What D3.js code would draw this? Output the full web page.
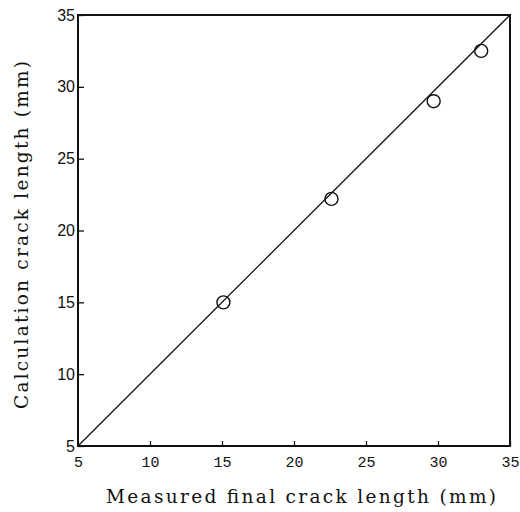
<!DOCTYPE html>
<html>
<head>
<meta charset="utf-8">
<script src="https://cdn.jsdelivr.net/npm/d3@7"></script>
<style>
  body { margin: 0; background: #fff; }
  svg { display: block; }
  .title { font-family: "DejaVu Serif", "Liberation Serif", serif; font-size: 18.5px; }
</style>
</head>
<body>
<div id="chart"></div>
<script>
  'use strict';

  // measured vs calculated final crack length (mm)
  var measured = [15.1, 22.6, 29.7, 33.0];
  var calculated = [15.0, 22.2, 29.0, 32.5];
  var lineX = [5, 35];
  var lineY = [5, 35];
  var xTicks = [5, 10, 15, 20, 25, 30, 35];
  var yTicks = [5, 10, 15, 20, 25, 30, 35];

  var width = 520;
  var height = 512;
  var margins = { top: 15, right: 10, bottom: 66, left: 78 };

  var svg = d3.select('#chart').append('svg')
    .attr('width', width)
    .attr('height', height);

  var x = d3.scaleLinear().domain([5, 35]).range([margins.left, width - margins.right]);
  var y = d3.scaleLinear().domain([5, 35]).range([height - margins.bottom, margins.top]);

  var ink = '#111';

  // x axis, ticks point inward
  var xAxis = svg.append('g')
    .attr('transform', 'translate(0,' + (height - margins.bottom) + ')')
    .call(d3.axisBottom(x).tickValues(xTicks).tickSizeInner(-5).tickSizeOuter(0).tickPadding(10));
  xAxis.select('.domain').remove();
  xAxis.selectAll('line').attr('stroke', ink).attr('stroke-width', 1.3);
  xAxis.selectAll('text')
    .attr('fill', ink)
    .style('font-family', '"Liberation Mono", monospace')
    .style('font-size', '15px');

  // y axis, ticks point inward
  var yAxis = svg.append('g')
    .attr('transform', 'translate(' + margins.left + ',0)')
    .call(d3.axisLeft(y).tickValues(yTicks).tickSizeInner(-6).tickSizeOuter(0).tickPadding(3));
  yAxis.select('.domain').remove();
  yAxis.selectAll('line').attr('stroke', ink).attr('stroke-width', 1.3);
  yAxis.selectAll('text')
    .attr('fill', ink)
    .style('font-family', '"Liberation Sans", Arial, sans-serif')
    .style('font-size', '16px');

  // frame
  svg.append('rect')
    .attr('x', x(5))
    .attr('y', y(35))
    .attr('width', x(35) - x(5))
    .attr('height', y(5) - y(35))
    .attr('fill', 'none')
    .attr('stroke', ink)
    .attr('stroke-width', 2);

  // 1:1 line
  var line = d3.line()
    .x(function (d) { return x(d[0]); })
    .y(function (d) { return y(d[1]); });

  svg.append('path')
    .datum(d3.zip(lineX, lineY))
    .attr('d', line)
    .attr('fill', 'none')
    .attr('stroke', ink)
    .attr('stroke-width', 1.3);

  // data points
  svg.selectAll('circle.pt')
    .data(d3.zip(measured, calculated))
    .enter()
    .append('circle')
      .attr('class', 'pt')
      .attr('cx', function (d) { return x(d[0]); })
      .attr('cy', function (d) { return y(d[1]); })
      .attr('r', 6.5)
      .attr('fill', 'none')
      .attr('stroke', ink)
      .attr('stroke-width', 1.4);

  // axis titles (typewriter look: serif face spread to the original width)
  svg.append('text')
    .attr('class', 'title')
    .attr('x', 301)
    .attr('y', 503)
    .attr('text-anchor', 'middle')
    .attr('textLength', 390)
    .attr('lengthAdjust', 'spacing')
    .attr('fill', ink)
    .text('Measured final crack length (mm)');

  svg.append('text')
    .attr('class', 'title')
    .attr('transform', 'translate(28,235) rotate(-90)')
    .attr('text-anchor', 'middle')
    .attr('textLength', 348)
    .attr('lengthAdjust', 'spacing')
    .attr('fill', ink)
    .text('Calculation crack length (mm)');
</script>
</body>
</html>
